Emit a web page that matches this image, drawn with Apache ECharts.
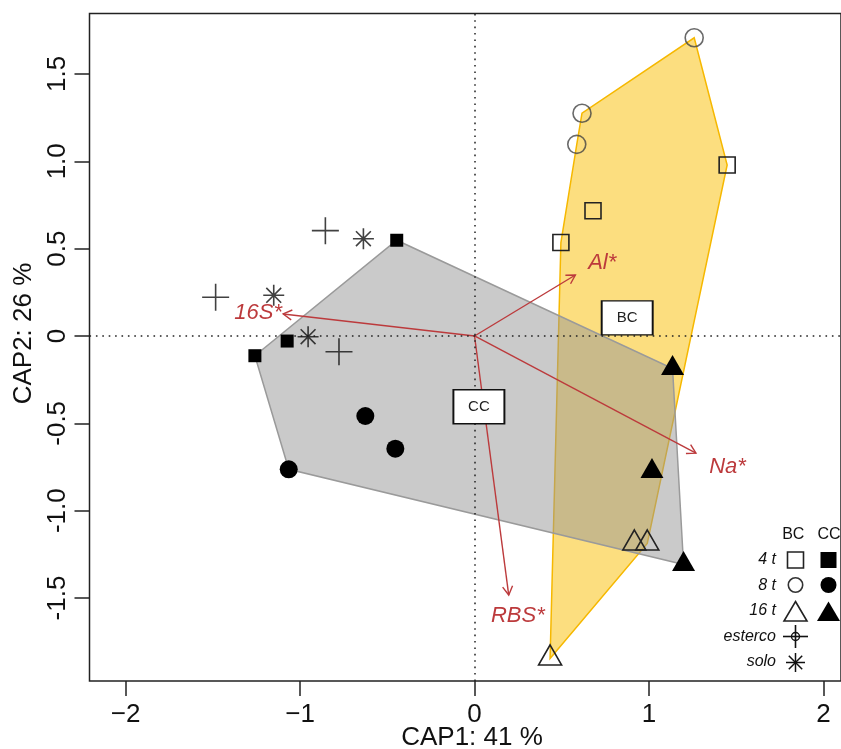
<!DOCTYPE html>
<html>
<head>
<meta charset="utf-8">
<script src="https://cdn.jsdelivr.net/npm/echarts@6/dist/echarts.min.js"></script>
<style>
  html, body { margin: 0; padding: 0; background: #fff; }
  #chart { width: 841px; height: 749px; }
</style>
</head>
<body>
<div id="chart"></div>
<script>
// CAP ordination: site scores by treatment (BC / CC) and incubation time
const bc4x = [1.448, 0.679, 0.495];
const bc4y = [0.979, 0.717, 0.535];
const bc8x = [1.259, 0.616, 0.586];
const bc8y = [1.707, 1.275, 1.097];
const bc16x = [0.916, 0.990, 0.433];
const bc16y = [-1.188, -1.188, -1.846];

const cc4x = [-0.446, -1.074, -1.259];
const cc4y = [0.548, -0.029, -0.113];
const cc8x = [-0.626, -0.454, -1.065];
const cc8y = [-0.458, -0.645, -0.763];
const cc16x = [1.135, 1.017, 1.198];
const cc16y = [-0.186, -0.776, -1.308];

const estercoX = [-0.855, -1.484, -0.777];
const estercoY = [0.603, 0.222, -0.090];
const soloX = [-0.637, -1.151, -0.954];
const soloY = [0.557, 0.233, -0.004];

// fitted environmental vectors
const envNames = ['Al*', '16S*', 'Na*', 'RBS*'];
const envX = [0.578, -1.097, 1.269, 0.196];
const envY = [0.349, 0.126, -0.671, -1.483];
const envLabelX = [0.732, -1.240, 1.450, 0.248];
const envLabelY = [0.421, 0.135, -0.748, -1.602];

// group label positions
const groupNames = ['BC', 'CC'];
const groupX = [0.875, 0.025];
const groupY = [0.104, -0.405];

// axis ticks
const xTicks = [-2, -1, 0, 1, 2];
const xTickLabels = ['\u22122', '\u22121', '0', '1', '2'];
const yTicks = [-1.5, -1, -0.5, 0, 0.5, 1, 1.5];
const yTickLabels = ['-1.5', '-1.0', '-0.5', '0', '0.5', '1.0', '1.5'];

const FONT = '"Liberation Sans", Arial, Helvetica, sans-serif';
const ARROW = '#BC3A3C';

function pairs(xs, ys) { return xs.map((x, i) => [x, ys[i]]); }

// convex hull (monotone chain)
function hull(points) {
  const p = points.slice().sort((a, b) => a[0] - b[0] || a[1] - b[1]);
  const cross = (o, a, b) => (a[0] - o[0]) * (b[1] - o[1]) - (a[1] - o[1]) * (b[0] - o[0]);
  const lower = [];
  for (const q of p) {
    while (lower.length >= 2 && cross(lower[lower.length - 2], lower[lower.length - 1], q) <= 0) lower.pop();
    lower.push(q);
  }
  const upper = [];
  for (let i = p.length - 1; i >= 0; i--) {
    const q = p[i];
    while (upper.length >= 2 && cross(upper[upper.length - 2], upper[upper.length - 1], q) <= 0) upper.pop();
    upper.push(q);
  }
  upper.pop(); lower.pop();
  return lower.concat(upper);
}

const bcPoints = [].concat(pairs(bc4x, bc4y), pairs(bc8x, bc8y), pairs(bc16x, bc16y));
const ccPoints = [].concat(pairs(cc4x, cc4y), pairs(cc8x, cc8y), pairs(cc16x, cc16y));
const bcHull = hull(bcPoints);
const ccHull = hull(ccPoints);

function hullSeries(verts, fill, stroke) {
  return {
    type: 'custom', silent: true, clip: true,
    data: [[0, 0]],
    renderItem: function (params, api) {
      return {
        type: 'polygon',
        shape: { points: verts.map(v => api.coord(v)) },
        style: { fill: fill, stroke: stroke, lineWidth: 1.5 }
      };
    }
  };
}

const PLUS = 'path://M10,0L10,20M0,10L20,10';
const STAR = 'path://M10,0L10,20M0,10L20,10M2.93,2.93L17.07,17.07M2.93,17.07L17.07,2.93';

function pointSeries(xs, ys, symbol, size, filled, extra) {
  const s = {
    type: 'scatter', silent: true,
    data: pairs(xs, ys),
    symbol: symbol, symbolSize: size,
    itemStyle: filled
      ? { color: '#000', borderWidth: 0, opacity: 1 }
      : { color: 'rgba(0,0,0,0)', borderColor: '#222', borderWidth: 1.6, opacity: 1 },
    z: 5
  };
  return Object.assign(s, extra || {});
}

const chart = echarts.init(document.getElementById('chart'), null, { renderer: 'canvas' });

const option = {
  animation: false,
  backgroundColor: '#fff',
  grid: {
    left: 89.5, top: 13.5, width: 752.5, height: 667.5,
    show: true, borderColor: '#222', borderWidth: 1.5, backgroundColor: 'rgba(0,0,0,0)'
  },
  xAxis: {
    type: 'value', min: -2.207, max: 2.1005,
    axisLine: { show: false, onZero: false },
    splitLine: { show: false },
    axisTick: { show: true, length: 15, lineStyle: { color: '#222', width: 1.5 }, customValues: xTicks },
    axisLabel: {
      customValues: xTicks,
      formatter: v => xTickLabels[xTicks.indexOf(v)],
      fontSize: 26, fontFamily: FONT, color: '#111', margin: 21
    }
  },
  yAxis: {
    type: 'value', min: -1.975, max: 1.846,
    axisLine: { show: false, onZero: false },
    splitLine: { show: false },
    axisTick: { show: true, length: 15, lineStyle: { color: '#222', width: 1.5 }, customValues: yTicks },
    axisLabel: {
      customValues: yTicks,
      formatter: v => yTickLabels[yTicks.indexOf(v)],
      rotate: 90,
      fontSize: 26, fontFamily: FONT, color: '#111', margin: 19
    }
  },
  graphic: {
    elements: [
      { type: 'text', x: 472, y: 738, silent: true,
        style: { text: 'CAP1: 41 %', font: '26px ' + FONT, fill: '#111', align: 'center', verticalAlign: 'middle' } },
      { type: 'text', x: 24, y: 333.5, rotation: Math.PI / 2, silent: true,
        style: { text: 'CAP2: 26 %', font: '26px ' + FONT, fill: '#111', align: 'center', verticalAlign: 'middle' } },
      // legend: headers
      { type: 'text', x: 793.3, y: 535, silent: true,
        style: { text: 'BC', font: '16px ' + FONT, fill: '#111', align: 'center', verticalAlign: 'middle' } },
      { type: 'text', x: 829, y: 535, silent: true,
        style: { text: 'CC', font: '16px ' + FONT, fill: '#111', align: 'center', verticalAlign: 'middle' } },
      // legend: row labels
      { type: 'text', x: 776, y: 560, silent: true,
        style: { text: '4 t', font: 'italic 16px ' + FONT, fill: '#111', align: 'right', verticalAlign: 'middle' } },
      { type: 'text', x: 776, y: 585.5, silent: true,
        style: { text: '8 t', font: 'italic 16px ' + FONT, fill: '#111', align: 'right', verticalAlign: 'middle' } },
      { type: 'text', x: 776, y: 611, silent: true,
        style: { text: '16 t', font: 'italic 16px ' + FONT, fill: '#111', align: 'right', verticalAlign: 'middle' } },
      { type: 'text', x: 776, y: 636.5, silent: true,
        style: { text: 'esterco', font: 'italic 16px ' + FONT, fill: '#111', align: 'right', verticalAlign: 'middle' } },
      { type: 'text', x: 776, y: 662, silent: true,
        style: { text: 'solo', font: 'italic 16px ' + FONT, fill: '#111', align: 'right', verticalAlign: 'middle' } },
      // legend: symbols
      { type: 'rect', silent: true, shape: { x: 787.5, y: 552, width: 16, height: 16 },
        style: { fill: 'none', stroke: '#222', lineWidth: 1.6 } },
      { type: 'rect', silent: true, shape: { x: 820.5, y: 552, width: 16, height: 16 },
        style: { fill: '#000' } },
      { type: 'circle', silent: true, shape: { cx: 795.5, cy: 585, r: 7.2 },
        style: { fill: 'none', stroke: '#333', lineWidth: 1.6 } },
      { type: 'circle', silent: true, shape: { cx: 828.5, cy: 585, r: 8 },
        style: { fill: '#000' } },
      { type: 'polygon', silent: true, shape: { points: [[795.5, 601.5], [807, 621], [784, 621]] },
        style: { fill: 'none', stroke: '#222', lineWidth: 1.6 } },
      { type: 'polygon', silent: true, shape: { points: [[828.5, 601.5], [840, 621], [817, 621]] },
        style: { fill: '#000' } },
      { type: 'line', silent: true, shape: { x1: 783, y1: 636.5, x2: 808, y2: 636.5 },
        style: { stroke: '#111', lineWidth: 1.6 } },
      { type: 'line', silent: true, shape: { x1: 795.5, y1: 625, x2: 795.5, y2: 648 },
        style: { stroke: '#111', lineWidth: 1.6 } },
      { type: 'circle', silent: true, shape: { cx: 795.5, cy: 636.5, r: 4 },
        style: { fill: 'none', stroke: '#111', lineWidth: 1.4 } },
      { type: 'line', silent: true, shape: { x1: 795.5, y1: 653, x2: 795.5, y2: 672 },
        style: { stroke: '#111', lineWidth: 1.5 } },
      { type: 'line', silent: true, shape: { x1: 786, y1: 662.5, x2: 805, y2: 662.5 },
        style: { stroke: '#111', lineWidth: 1.5 } },
      { type: 'line', silent: true, shape: { x1: 788.8, y1: 655.8, x2: 802.2, y2: 669.2 },
        style: { stroke: '#111', lineWidth: 1.5 } },
      { type: 'line', silent: true, shape: { x1: 788.8, y1: 669.2, x2: 802.2, y2: 655.8 },
        style: { stroke: '#111', lineWidth: 1.5 } }
    ]
  },
  series: [
    hullSeries(bcHull, 'rgba(250,190,0,0.5)', '#F6B800'),
    hullSeries(ccHull, 'rgba(150,150,150,0.5)', '#9A9A9A'),
    {
      // axes through the origin and biplot arrows
      type: 'custom', silent: true, clip: false,
      data: envX.map((x, i) => [x, envY[i], i]),
      markLine: {
        silent: true, symbol: 'none', label: { show: false },
        lineStyle: { color: '#222', width: 1.5, type: [1.6, 4.8] },
        data: [{ xAxis: 0 }, { yAxis: 0 }]
      },
      renderItem: function (params, api) {
        const i = api.value(2);
        const p0 = api.coord([0, 0]);
        const p1 = api.coord([api.value(0), api.value(1)]);
        const a = Math.atan2(p1[1] - p0[1], p1[0] - p0[0]);
        const L = 10, h = Math.PI / 6;
        const h1 = [p1[0] - L * Math.cos(a - h), p1[1] - L * Math.sin(a - h)];
        const h2 = [p1[0] - L * Math.cos(a + h), p1[1] - L * Math.sin(a + h)];
        const lp = api.coord([envLabelX[i], envLabelY[i]]);
        return {
          type: 'group',
          children: [
            { type: 'line', shape: { x1: p0[0], y1: p0[1], x2: p1[0], y2: p1[1] },
              style: { stroke: ARROW, lineWidth: 1.4 } },
            { type: 'polyline', shape: { points: [h1, p1, h2] },
              style: { stroke: ARROW, lineWidth: 1.4, fill: 'none' } },
            { type: 'text', x: lp[0], y: lp[1],
              style: { text: envNames[i], font: 'italic 22px ' + FONT, fill: ARROW, align: 'center', verticalAlign: 'middle' } }
          ]
        };
      }
    },
    pointSeries(bc4x, bc4y, 'rect', 16, false),
    pointSeries(bc8x, bc8y, 'circle', 18, false, { itemStyle: { color: 'rgba(0,0,0,0)', borderColor: '#444', borderWidth: 1.6 } }),
    pointSeries(bc16x, bc16y, 'triangle', [23, 20], false, { symbolOffset: [0, -3.5] }),
    pointSeries(cc4x, cc4y, 'rect', 13, true),
    pointSeries(cc8x, cc8y, 'circle', 18, true),
    pointSeries(cc16x, cc16y, 'triangle', [23, 20], true, { symbolOffset: [0, -3.5] }),
    pointSeries(estercoX, estercoY, PLUS, 27, false, { itemStyle: { color: 'rgba(0,0,0,0)', borderColor: '#111', borderWidth: 1.6 } }),
    pointSeries(soloX, soloY, STAR, 21, false, { itemStyle: { color: 'rgba(0,0,0,0)', borderColor: '#111', borderWidth: 1.6 } }),
    {
      type: 'scatter', silent: true, z: 6,
      data: groupX.map((x, i) => ({ value: [x, groupY[i]], name: groupNames[i] })),
      symbol: 'rect', symbolSize: [51, 34],
      itemStyle: { color: '#fff', borderColor: '#111', borderWidth: 1.6, opacity: 1 },
      label: { show: true, position: 'inside', formatter: p => p.name,
        fontSize: 15, fontFamily: FONT, color: '#222' }
    }
  ]
};

chart.setOption(option);
</script>
</body>
</html>
